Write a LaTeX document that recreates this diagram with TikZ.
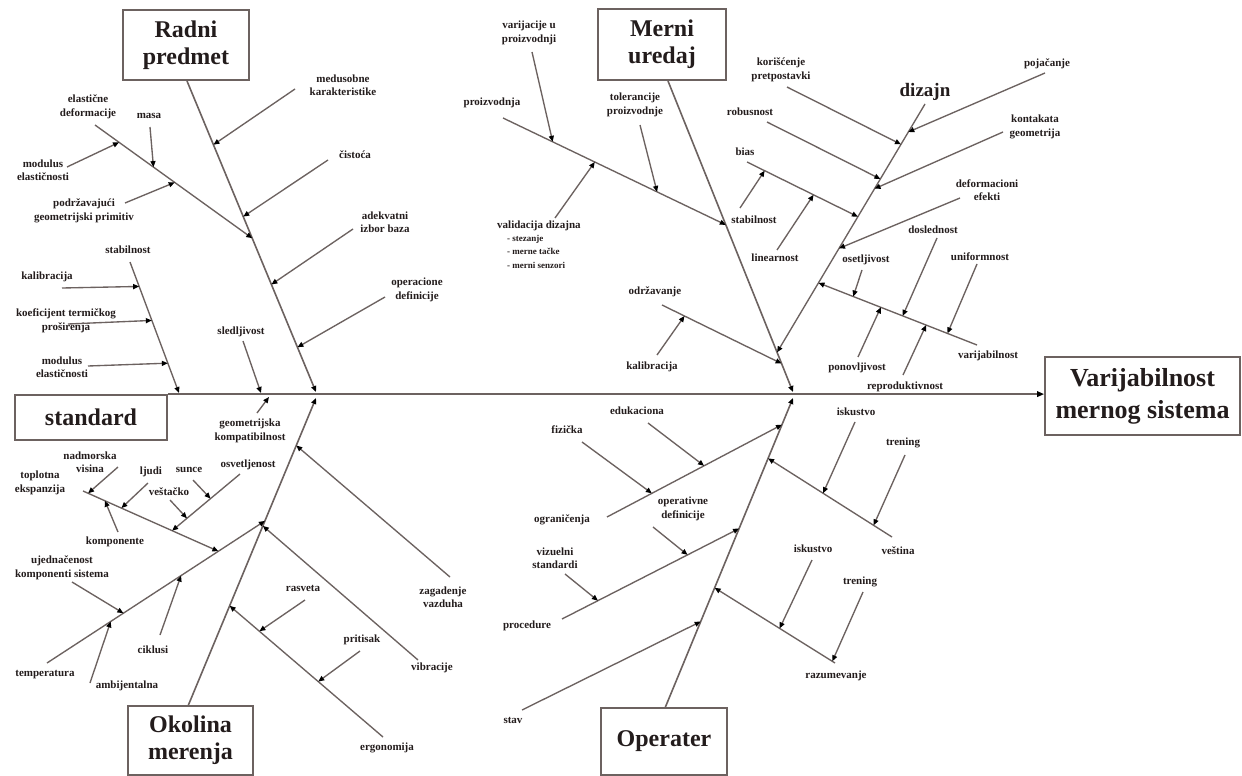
\documentclass[tikz,border=0pt]{standalone}
\usepackage{fontspec}
\setmainfont{Liberation Serif}
\usetikzlibrary{arrows.meta,calc}
\definecolor{lc}{RGB}{108,98,96}
\definecolor{tc}{RGB}{35,28,28}
\tikzset{
  tip/.style={-{Triangle[length=6pt,width=5pt,color=black]}},
  arr/.style={draw=lc, line width=1.35pt, tip},
  bonearr/.style={draw=lc, line width=1.6pt, tip},
  lbl/.style={font=\bfseries\fontsize{11}{13.5}\selectfont, text=tc, align=center, inner sep=0pt},
  box/.style={font=\bfseries\fontsize{24}{27}\selectfont, text=tc, align=center, draw=lc, line width=1.8pt, fill=white, inner sep=0pt},
}
\newcommand\subarr[5]{%
  \coordinate (#1s) at #2;
  \coordinate (#1e) at ($(#3)!#5!(#4)$);
  \draw[arr] (#1s) -- (#1e);}
\begin{document}
\begin{tikzpicture}[x=1pt,y=-1pt]
\fill[white] (0,0) rectangle (1242,776);
\useasboundingbox (0,0) rectangle (1242,776);

% ---------- boxes ----------
\node[box, minimum width=152pt, minimum height=45pt] (std) at (91,417.5) {standard};
\node[box, minimum width=195pt, minimum height=78pt, font=\bfseries\fontsize{26}{32}\selectfont] (res) at (1142.5,396) {Varijabilnost\\mernog sistema};
\node[box, minimum width=126pt, minimum height=70pt] (rp) at (186,45) {Radni\\predmet};
\node[box, minimum width=128pt, minimum height=71pt] (mu) at (662,44.5) {Merni\\uredaj};
\node[box, minimum width=125pt, minimum height=69pt] (ok) at (190.5,740.5) {Okolina\\merenja};
\node[box, minimum width=126pt, minimum height=67pt] (op) at (664,741.5) {Operater};

% ---------- spine ----------
\draw[draw=lc, line width=2pt, -{Triangle[length=7pt,width=5.5pt,color=black]}] (std.north east) -- (std.north east -| res.west);

% ---------- main bones ----------
\coordinate (RA) at (187,81);  \coordinate (RB) at (316,392);
\coordinate (OA) at (188,706); \coordinate (OB) at (316,398);
\coordinate (MA) at (668,81);  \coordinate (MB) at (793,392);
\coordinate (QA) at (665,708); \coordinate (QB) at (793,398);
\draw[bonearr] (RA) -- (RB);
\draw[bonearr] (OA) -- (OB);
\draw[bonearr] (MA) -- (MB);
\draw[bonearr] (QA) -- (QB);

% ---------- Radni predmet ----------
\node[lbl] (l-med) at (343,85) {medusobne\\karakteristike};
\subarr{a1}{(295,89)}{RA}{RB}{(220,142)}
\node[lbl] (l-cis) at (355,155) {čistoća};
\subarr{a2}{(328,160)}{RA}{RB}{(252,213)}
\node[lbl] (l-ade) at (385,222) {adekvatni\\izbor baza};
\subarr{a3}{(353,229)}{RA}{RB}{(275,283)}
\node[lbl] (l-opd) at (417,290) {operacione\\definicije};
\subarr{a4}{(385,297)}{RA}{RB}{(303,345)}

\node[lbl] (l-ela) at (88,107) {elastične\\deformacije};
\coordinate (EA) at (95,125);
\coordinate (EB) at ($(RA)!(248,240)!(RB)$);
\draw[arr] (EA) -- (EB);
\node[lbl] (l-mas) at (149,116) {masa};
\subarr{a5}{(150,127)}{EA}{EB}{(155,165)}
\node[lbl] (l-mod1) at (43,170) {modulus\\elastičnosti};
\subarr{a6}{(67,167)}{EA}{EB}{(115,148)}
\node[lbl] (l-pod) at (84,211) {podržavajući\\geometrijski primitiv};
\subarr{a7}{(125,203)}{EA}{EB}{(170,189)}

% ---------- standard ----------
\node[lbl] (l-stab) at (128,250) {stabilnost};
\coordinate (SA) at (130,262); \coordinate (SB) at (179,393);
\draw[arr] (SA) -- (SB);
\node[lbl] (l-kal) at (47,277) {kalibracija};
\subarr{b1}{(62,288)}{SA}{SB}{(135,288)}
\node[lbl] (l-koe) at (66,321) {koeficijent termičkog\\proširenja};
\subarr{b2}{(68,324)}{SA}{SB}{(145,323)}
\node[lbl] (l-mod2) at (62,367) {modulus\\elastičnosti};
\subarr{b3}{(88,366)}{SA}{SB}{(163,365)}

\node[lbl] (l-sle) at (241,332) {sledljivost};
\coordinate (c1s) at (243,341); \coordinate (c1e) at (261,393);
\draw[arr] (c1s) -- (c1e);
\node[lbl] (l-geo) at (250,431) {geometrijska\\kompatibilnost};
\coordinate (c2s) at (257,413); \coordinate (c2e) at (269,397);
\draw[arr] (c2s) -- (c2e);

% ---------- Okolina merenja ----------
\node[lbl] (l-zag) at (443,597) {zagadenje\\vazduha};
\subarr{d1}{(450,577)}{OA}{OB}{(300,447)}

\node[lbl] (l-vib) at (432,668) {vibracije};
\coordinate (VA) at (418,660); \coordinate (VB) at ($(OA)!(268,528)!(OB)$);
\draw[arr] (VA) -- (VB);

\node[lbl] (l-erg) at (387,748) {ergonomija};
\coordinate (GA) at (383,737); \coordinate (GB) at ($(OA)!(235,608)!(OB)$);
\draw[arr] (GA) -- (GB);
\node[lbl] (l-ras) at (303,588) {rasveta};
\subarr{d2}{(305,600)}{GA}{GB}{(263,627)}
\node[lbl] (l-pri) at (362,640) {pritisak};
\subarr{d3}{(360,651)}{GA}{GB}{(323,676)}

\node[lbl] (l-tem) at (45,675) {temperatura};
\coordinate (TA) at (47,663); \coordinate (TB) at ($(OA)!(258,518)!(OB)$);
\draw[arr] (TA) -- (TB);
\node[lbl] (l-uje) at (62,568) {ujednačenost\\komponenti sistema};
\subarr{d4}{(72,582)}{TA}{TB}{(120,608)}
\node[lbl] (l-amb) at (127,686) {ambijentalna};
\subarr{d5}{(90,683)}{TA}{TB}{(113,625)}
\node[lbl] (l-cik) at (153,650) {ciklusi};
\subarr{d6}{(160,635)}{TA}{TB}{(182,577)}

\node[lbl] (l-top) at (40,483) {toplotna\\ekspanzija};
\coordinate (XA) at (83,491); \coordinate (XB) at ($(TA)!(213,543)!(TB)$);
\draw[arr] (XA) -- (XB);
\node[lbl] (l-nad) at (90,462) {nadmorska\\visina};
\subarr{d7}{(118,467)}{XA}{XB}{(90,489)}
\node[lbl] (l-lju) at (151,472) {ljudi};
\subarr{d8}{(148,483)}{XA}{XB}{(125,500)}
\node[lbl] (l-kom) at (115,542) {komponente};
\subarr{d9}{(118,532)}{XA}{XB}{(103,505)}
\node[lbl] (l-osv) at (248,465) {osvetljenost};
\coordinate (LA) at (240,474); \coordinate (LB) at ($(XA)!(176,522)!(XB)$);
\draw[arr] (LA) -- (LB);
\node[lbl] (l-sun) at (189,470) {sunce};
\subarr{d10}{(193,480)}{LA}{LB}{(205,492)}
\node[lbl] (l-ves) at (169,492) {veštačko};
\subarr{d11}{(170,500)}{LA}{LB}{(180,510)}

% ---------- Merni uredaj ----------
\node[lbl] (l-pro) at (492,103) {proizvodnja};
\coordinate (PA) at (503,118); \coordinate (PB) at ($(MA)!(718,228)!(MB)$);
\draw[arr] (PA) -- (PB);
\node[lbl] (l-var) at (529,33) {varijacije u\\proizvodnji};
\subarr{e1}{(532,52)}{PA}{PB}{(555,137)}
\node[lbl] (l-tol) at (635,105) {tolerancije\\proizvodnje};
\subarr{e2}{(640,125)}{PA}{PB}{(658,190)}
\node[lbl, align=left, anchor=north west] (l-val) at (497,221) {validacija dizajna\\[-1pt]
  {\fontsize{9}{10}\selectfont\hspace*{10pt}- stezanje}\\[0pt]
  {\fontsize{9}{10}\selectfont\hspace*{10pt}- merne tačke}\\[0pt]
  {\fontsize{9}{10}\selectfont\hspace*{10pt}- merni senzori}};
\subarr{e3}{(555,218)}{PA}{PB}{(590,172)}

\node[lbl] (l-odr) at (655,292) {održavanje};
\coordinate (DA) at (662,305); \coordinate (DB) at ($(MA)!(778,365)!(MB)$);
\draw[arr] (DA) -- (DB);
\node[lbl] (l-kal2) at (652,367) {kalibracija};
\subarr{e4}{(657,355)}{DA}{DB}{(682,321)}

\node[lbl, font=\bfseries\fontsize{19}{22}\selectfont] (l-diz) at (925,92) {dizajn};
\coordinate (ZA) at (925,104); \coordinate (ZB) at ($(MA)!(783,350)!(MB)$);
\draw[arr] (ZA) -- (ZB);
\node[lbl] (l-kor) at (781,70) {korišćenje\\pretpostavki};
\subarr{f1}{(787,87)}{ZA}{ZB}{(892,139)}
\node[lbl] (l-poj) at (1047,64) {pojačanje};
\subarr{f2}{(1045,73)}{ZA}{ZB}{(915,136)}
\node[lbl] (l-rob) at (750,112) {robusnost};
\subarr{f3}{(767,122)}{ZA}{ZB}{(872,174)}
\node[lbl] (l-kon) at (1035,127) {kontakata\\geometrija};
\subarr{f4}{(1003,132)}{ZA}{ZB}{(880,192)}
\node[lbl] (l-def) at (987,190) {deformacioni\\efekti};
\subarr{f5}{(960,198)}{ZA}{ZB}{(845,252)}

\node[lbl] (l-bia) at (745,152) {bias};
\coordinate (BA) at (747,162); \coordinate (BB) at ($(ZA)!(850,212)!(ZB)$);
\draw[arr] (BA) -- (BB);
\node[lbl] (l-sta2) at (754,220) {stabilnost};
\subarr{f6}{(740,208)}{BA}{BB}{(762,176)}
\node[lbl] (l-lin) at (775,258) {linearnost};
\subarr{f7}{(777,250)}{BA}{BB}{(810,202)}

\node[lbl] (l-vab) at (988,356) {varijabilnost};
\coordinate (WA) at (977,345); \coordinate (WB) at ($(ZA)!(827,288)!(ZB)$);
\draw[arr] (WA) -- (WB);
\node[lbl] (l-ose) at (866,260) {osetljivost};
\subarr{f8}{(862,270)}{WA}{WB}{(855,292)}
\node[lbl] (l-dos) at (933,230) {doslednost};
\subarr{f9}{(937,238)}{WA}{WB}{(905,310)}
\node[lbl] (l-uni) at (980,257) {uniformnost};
\subarr{f10}{(977,264)}{WA}{WB}{(950,327)}
\node[lbl] (l-pon) at (857,368) {ponovljivost};
\subarr{f11}{(858,357)}{WA}{WB}{(877,317)}
\node[lbl] (l-rep) at (905,387) {reproduktivnost};
\subarr{f12}{(903,375)}{WA}{WB}{(923,333)}

% ---------- Operater ----------
\node[lbl] (l-ogr) at (562,520) {ograničenja};
\coordinate (NA) at (607,517); \coordinate (NB) at ($(QA)!(778,423)!(QB)$);
\draw[arr] (NA) -- (NB);
\node[lbl] (l-edu) at (637,411) {edukaciona};
\subarr{g1}{(648,423)}{NA}{NB}{(700,458)}
\node[lbl] (l-fiz) at (567,430) {fizička};
\subarr{g2}{(582,442)}{NA}{NB}{(648,486)}

\node[lbl] (l-prc) at (527,626) {procedure};
\coordinate (CA) at (562,619); \coordinate (CB) at ($(QA)!(733,526)!(QB)$);
\draw[arr] (CA) -- (CB);
\node[lbl] (l-opr) at (683,509) {operativne\\definicije};
\subarr{g3}{(653,527)}{CA}{CB}{(683,546)}
\node[lbl] (l-viz) at (555,558) {vizuelni\\standardi};
\subarr{g4}{(565,574)}{CA}{CB}{(595,595)}

\node[lbl] (l-sta) at (513,720) {stav};
\subarr{g5}{(522,710)}{QA}{QB}{(692,618)}

\node[lbl] (l-ves2) at (898,551) {veština};
\coordinate (KA) at (892,537); \coordinate (KB) at ($(QA)!(777,462)!(QB)$);
\draw[arr] (KA) -- (KB);
\node[lbl] (l-isk1) at (856,412) {iskustvo};
\subarr{g6}{(855,422)}{KA}{KB}{(827,487)}
\node[lbl] (l-tre1) at (903,443) {trening};
\subarr{g7}{(905,455)}{KA}{KB}{(877,520)}

\node[lbl] (l-raz) at (836,676) {razumevanje};
\coordinate (UA) at (835,663); \coordinate (UB) at ($(QA)!(720,590)!(QB)$);
\draw[arr] (UA) -- (UB);
\node[lbl] (l-isk2) at (813,549) {iskustvo};
\subarr{g8}{(812,560)}{UA}{UB}{(783,623)}
\node[lbl] (l-tre2) at (860,582) {trening};
\subarr{g9}{(863,592)}{UA}{UB}{(835,657)}

\end{tikzpicture}
\end{document}
